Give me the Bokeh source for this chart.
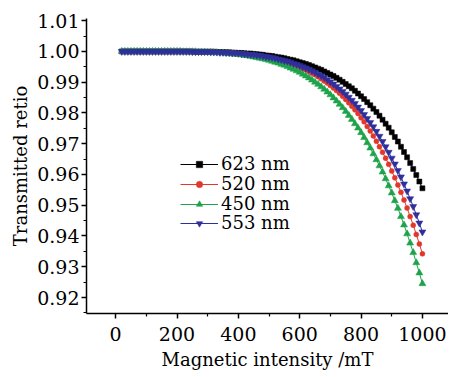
from bokeh.plotting import figure
from bokeh.models import Range1d, Legend, LegendItem, FixedTicker, PrintfTickFormatter
from bokeh.embed import file_html
from bokeh.resources import INLINE

# Magnetic intensity (mT)
field = [20, 30, 40, 50, 60, 70, 80, 90, 100, 110, 120, 130, 140, 150, 160, 170, 180, 190,
         200, 210, 220, 230, 240, 250, 260, 270, 280, 290, 300, 310, 320, 330, 340, 350,
         360, 370, 380, 390, 400, 410, 420, 430, 440, 450, 460, 470, 480, 490, 500, 510,
         520, 530, 540, 550, 560, 570, 580, 590, 600, 610, 620, 630, 640, 650, 660, 670,
         680, 690, 700, 710, 720, 730, 740, 750, 760, 770, 780, 790, 800, 810, 820, 830,
         840, 850, 860, 870, 880, 890, 900, 910, 920, 930, 940, 950, 960, 970, 980, 990, 1000]

t623 = [1.0, 1.0, 1.0, 1.0, 1.0, 1.0, 1.0, 1.0, 1.0, 1.0, 1.0, 1.0, 1.0, 1.0, 1.0, 1.0, 1.0, 1.0,
        1.0, 1.0, 1.0, 1.0, 1.0, 1.0, 0.9999, 0.9999, 0.9999, 0.9999, 0.9999, 0.9999, 0.9999,
        0.9998, 0.9998, 0.9998, 0.9997, 0.9997, 0.9996, 0.9996, 0.9995, 0.9995, 0.9994, 0.9993, 0.9993,
        0.9992, 0.9991, 0.9990, 0.9989, 0.9987, 0.9986, 0.9985, 0.9983, 0.9981, 0.9980,
        0.9978, 0.9975, 0.9973, 0.9971, 0.9968, 0.9965, 0.9962, 0.9959, 0.9956, 0.9952,
        0.9948, 0.9944, 0.9940, 0.9935, 0.9930, 0.9925, 0.9920, 0.9914, 0.9908, 0.9901,
        0.9894, 0.9887, 0.9880, 0.9872, 0.9863, 0.9854, 0.9845, 0.9835, 0.9825, 0.9814,
        0.9803, 0.9791, 0.9778, 0.9765, 0.9752, 0.9737, 0.9722, 0.9707, 0.9690, 0.9673,
        0.9656, 0.9637, 0.9618, 0.9598, 0.9577, 0.9555]

t520 = [1.0, 1.0, 1.0, 1.0, 1.0, 1.0, 1.0, 1.0, 1.0, 1.0, 1.0, 1.0, 1.0, 1.0, 1.0, 1.0, 1.0, 1.0,
        1.0, 1.0, 1.0, 1.0, 0.9999, 0.9999, 0.9999, 0.9999, 0.9999, 0.9999, 0.9998, 0.9998, 0.9998,
        0.9997, 0.9997, 0.9997, 0.9996, 0.9995, 0.9995, 0.9994, 0.9993, 0.9992, 0.9991, 0.9990, 0.9989,
        0.9988, 0.9986, 0.9985, 0.9983, 0.9981, 0.9979, 0.9977, 0.9975, 0.9972, 0.9970,
        0.9967, 0.9964, 0.9960, 0.9957, 0.9953, 0.9949, 0.9944, 0.9940, 0.9935, 0.9929,
        0.9924, 0.9918, 0.9911, 0.9904, 0.9897, 0.9889, 0.9881, 0.9873, 0.9864, 0.9854,
        0.9844, 0.9833, 0.9822, 0.9810, 0.9798, 0.9784, 0.9771, 0.9756, 0.9741, 0.9725,
        0.9708, 0.9690, 0.9672, 0.9653, 0.9633, 0.9611, 0.9589, 0.9566, 0.9542, 0.9517,
        0.9491, 0.9463, 0.9435, 0.9405, 0.9374, 0.9342]

t450 = [1.0, 1.0, 1.0, 1.0, 1.0, 1.0, 1.0, 1.0, 1.0, 1.0, 1.0, 1.0, 1.0, 1.0, 1.0, 1.0, 1.0, 1.0,
        1.0, 1.0, 0.9999, 0.9999, 0.9999, 0.9999, 0.9999, 0.9998, 0.9998, 0.9998, 0.9997, 0.9997,
        0.9996, 0.9996, 0.9995, 0.9995, 0.9994, 0.9993, 0.9992, 0.9991, 0.9990, 0.9989, 0.9987,
        0.9986, 0.9984,
        0.9982, 0.9980, 0.9978, 0.9976, 0.9974, 0.9971, 0.9968, 0.9965, 0.9962, 0.9958,
        0.9955, 0.9951, 0.9946, 0.9942, 0.9937, 0.9932, 0.9926, 0.9920, 0.9914, 0.9907,
        0.9900, 0.9893, 0.9885, 0.9877, 0.9868, 0.9859, 0.9849, 0.9839, 0.9828, 0.9817,
        0.9805, 0.9792, 0.9779, 0.9765, 0.9751, 0.9736, 0.9720, 0.9703, 0.9686, 0.9667,
        0.9648, 0.9628, 0.9608, 0.9586, 0.9563, 0.9540, 0.9515, 0.9490, 0.9463, 0.9436,
        0.9407, 0.9377, 0.9346, 0.9313, 0.9280, 0.9245]

t553 = [1.0, 1.0, 1.0, 1.0, 1.0, 1.0, 1.0, 1.0, 1.0, 1.0, 1.0, 1.0, 1.0, 1.0, 1.0, 1.0, 1.0, 1.0,
        1.0, 1.0, 1.0, 1.0, 1.0, 0.9999, 0.9999, 0.9999, 0.9999, 0.9999, 0.9999, 0.9998, 0.9998,
        0.9998, 0.9997, 0.9997, 0.9996, 0.9996, 0.9995, 0.9995, 0.9994, 0.9993, 0.9992, 0.9991, 0.9990,
        0.9989, 0.9988, 0.9987, 0.9985, 0.9983, 0.9982, 0.9980, 0.9978, 0.9975, 0.9973,
        0.9970, 0.9968, 0.9965, 0.9961, 0.9958, 0.9954, 0.9950, 0.9946, 0.9942, 0.9937,
        0.9932, 0.9926, 0.9921, 0.9915, 0.9908, 0.9901, 0.9894, 0.9886, 0.9878, 0.9870,
        0.9861, 0.9851, 0.9841, 0.9831, 0.9819, 0.9808, 0.9795, 0.9782, 0.9769, 0.9755,
        0.9740, 0.9724, 0.9707, 0.9690, 0.9672, 0.9653, 0.9634, 0.9613, 0.9592, 0.9569,
        0.9546, 0.9521, 0.9496, 0.9469, 0.9442, 0.9413]

labels = ["623 nm", "520 nm", "450 nm", "553 nm"]
x_ticks = [0, 200, 400, 600, 800, 1000]
y_ticks = [0.92, 0.93, 0.94, 0.95, 0.96, 0.97, 0.98, 0.99, 1.00, 1.01]

FONT = "DejaVu Serif"

p = figure(width=448, height=377, output_backend="svg", toolbar_location=None,
           x_range=Range1d(-95, 1085), y_range=Range1d(0.9148, 1.0107),
           min_border_left=86, min_border_right=0, min_border_top=18, min_border_bottom=64)
p.outline_line_color = None
p.grid.visible = False
p.background_fill_color = "white"

series = [
    (t623, "black", "square", 5, labels[0]),
    (t520, "#e0392c", "circle", 5, labels[1]),
    (t450, "#1ea24a", "triangle", 7, labels[2]),
    (t553, "#2f2f9c", "inverted_triangle", 7, labels[3]),
]
legend_y = [139, 119, 99, 80]
for (ys, col, mk, sz, lab), ly in zip(series, legend_y):
    lr = p.line(field, ys, line_color=col, line_width=1)
    sr = p.scatter(field, ys, marker=mk, size=sz, fill_color=col, line_color=col, line_width=0.5)
    lg = Legend(items=[LegendItem(label=lab, renderers=[lr, sr])], location=(94, ly),
                padding=0, margin=0, spacing=0,
                border_line_color=None, background_fill_alpha=0,
                glyph_width=38, glyph_height=16, label_height=16, label_standoff=3,
                label_text_font=FONT, label_text_font_size="18px", label_text_color="black")
    p.add_layout(lg)

p.xaxis.ticker = FixedTicker(ticks=x_ticks, minor_ticks=[100, 300, 500, 700, 900])
p.yaxis.ticker = FixedTicker(ticks=y_ticks,
                             minor_ticks=[0.915, 0.925, 0.935, 0.945, 0.955, 0.965, 0.975, 0.985, 0.995, 1.005])
p.yaxis.formatter = PrintfTickFormatter(format="%.2f")
p.xaxis.axis_label = "Magnetic intensity /mT"
p.yaxis.axis_label = "Transmitted retio"
for ax in (p.xaxis, p.yaxis):
    ax.axis_line_color = "black"
    ax.axis_line_width = 1.5
    ax.major_tick_line_color = "black"
    ax.major_tick_line_width = 1.5
    ax.minor_tick_line_color = "black"
    ax.minor_tick_line_width = 1.2
    ax.major_tick_in = 0
    ax.major_tick_out = 5
    ax.minor_tick_in = 0
    ax.minor_tick_out = 3
    ax.major_label_text_font = FONT
    ax.major_label_text_font_size = "19px"
    ax.major_label_text_color = "black"
    ax.axis_label_text_font = FONT
    ax.axis_label_text_font_size = "18px"
    ax.axis_label_text_font_style = "normal"
    ax.axis_label_text_color = "black"
    ax.axis_label_standoff = 3
p.yaxis.major_label_standoff = 2
p.xaxis.major_label_standoff = 8
p.xaxis.axis_label_standoff = 5

open("out.html", "w").write(file_html(p, INLINE))
